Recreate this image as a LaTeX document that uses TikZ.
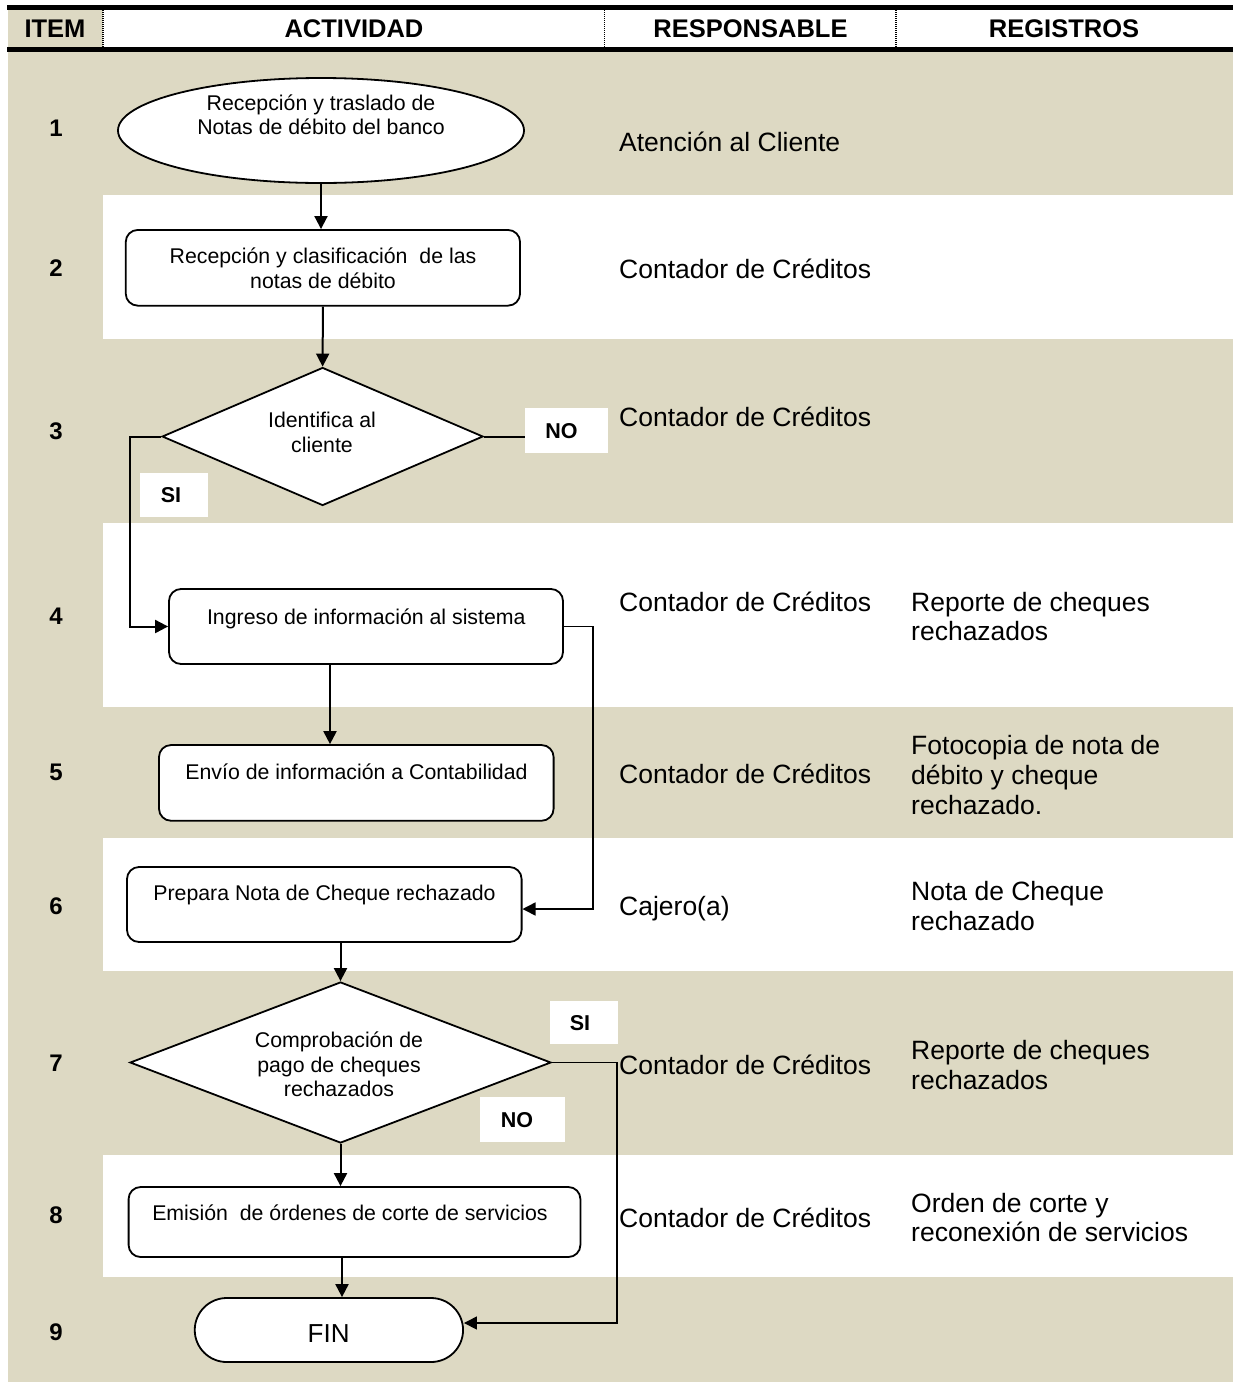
\documentclass[tikz,border=0pt]{standalone}
\usepackage{fontspec}
\setmainfont{Liberation Sans}
\usetikzlibrary{arrows.meta,shapes.geometric}
\definecolor{bgtan}{HTML}{DDD9C3}
\newcommand\hiS{\rule{0pt}{1em}}
\newcommand\loS{\rule[-.28em]{0pt}{.28em}}
\tikzset{
  boxline/.style={draw=black, line width=1.8pt, fill=white, inner sep=0pt},
  procbox/.style={boxline, rectangle, rounded corners=12pt},
  arr/.style={line width=2pt, -{Triangle[length=13pt,width=13pt]}},
  thinarr/.style={line width=1.5pt, -{Triangle[length=13pt,width=13pt]}},
  conn/.style={line width=2pt},
  btxt/.style={font=\fontsize{21.3}{24.5}\selectfont, align=center, inner sep=0pt},
  rtxt/.style={font=\fontsize{26.5}{29.8}\selectfont, align=left, inner sep=0pt, anchor=west},
  htxt/.style={font=\bfseries\fontsize{25.5}{30}\selectfont, inner sep=0pt},
  ntxt/.style={font=\bfseries\fontsize{24}{28}\selectfont, inner sep=0pt},
  lblbox/.style={fill=white, inner sep=0pt, font=\bfseries\fontsize{21.5}{25}\selectfont},
  hdiv/.style={line width=1.5pt, dash pattern=on 1pt off 1pt},
}
\begin{document}
\begin{tikzpicture}[x=1pt,y=-1pt]
\useasboundingbox (0,0) rectangle (1233,1382);
\fill[white] (0,0) rectangle (1233,1382);
% row bands
\fill[bgtan] (8,52) rectangle (1233,1382);
\fill[white] (103,195) rectangle (1233,339);
\fill[white] (103,523) rectangle (1233,707);
\fill[white] (103,838) rectangle (1233,971);
\fill[white] (103,1155) rectangle (1233,1277);
% header
\fill[bgtan] (8,10) rectangle (103,47);
\fill[black] (7,5) rectangle (1233,10);
\fill[black] (7,46.5) rectangle (1233,51.5);
\draw[hdiv] (103,10) -- (103,46.5);
\draw[hdiv] (604.5,10) -- (604.5,46.5);
\draw[hdiv] (896,10) -- (896,46.5);
\node[htxt] (h1) at (55,28.5) {\hiS ITEM\loS};
\node[htxt] (h2) at (354,28.5) {\hiS ACTIVIDAD\loS};
\node[htxt] (h3) at (750.5,28.5) {\hiS RESPONSABLE\loS};
\node[htxt] (h4) at (1064,28.5) {\hiS REGISTROS\loS};
% item numbers
\node[ntxt] (i1) at (56,128) {\hiS 1\loS};
\node[ntxt] (i2) at (56,268) {\hiS 2\loS};
\node[ntxt] (i3) at (56,431) {\hiS 3\loS};
\node[ntxt] (i4) at (56,616) {\hiS 4\loS};
\node[ntxt] (i5) at (56,772) {\hiS 5\loS};
\node[ntxt] (i6) at (56,905.5) {\hiS 6\loS};
\node[ntxt] (i7) at (56,1062.5) {\hiS 7\loS};
\node[ntxt] (i8) at (56,1215) {\hiS 8\loS};
\node[ntxt] (i9) at (56,1331.5) {\hiS 9\loS};
% shapes
\node[ellipse, boxline, minimum width=406pt, minimum height=105pt] (n1) at (321,130.5) {};
\node[btxt] (t1) at (321,115) {\hiS Recepción y traslado de\\Notas de débito del banco\loS};
\node[procbox, minimum width=394.3pt, minimum height=75.7pt] (b2) at (322.9,267.8) {};
\node[btxt] (t2) at (323,268.2) {\hiS Recepción y clasificación~ de las\\notas de débito\loS};
\node[diamond, boxline, minimum width=321pt, minimum height=138pt] (d3) at (322.6,436.5) {};
\node[btxt] (t3) at (322,432.5) {\hiS Identifica al\\cliente\loS};
\node[procbox, minimum width=394pt, minimum height=75pt] (b4) at (366,626.5) {};
\node[btxt] (t4) at (366.3,617) {\hiS Ingreso de información al sistema\loS};
\node[procbox, minimum width=394.6pt, minimum height=75.7pt] (b5) at (356.3,782.9) {};
\node[btxt] (t5) at (356.5,772) {\hiS Envío de información a Contabilidad\loS};
\node[procbox, minimum width=394.6pt, minimum height=75pt] (b6) at (324.3,904.5) {};
\node[btxt] (t6) at (324.5,893) {\hiS Prepara Nota de Cheque rechazado\loS};
\node[diamond, boxline, minimum width=421pt, minimum height=161pt] (d7) at (340.5,1062.5) {};
\node[btxt] (t7) at (339,1064.7) {\hiS Comprobación de\\pago de cheques\\rechazados\loS};
\node[procbox, minimum width=451.8pt, minimum height=70pt] (b8) at (354.5,1222) {};
\node[btxt] (t8) at (350,1212.7) {\hiS Emisión~ de órdenes de corte de servicios\loS};
\node[boxline, rectangle, rounded corners=32pt, minimum width=268.3pt, minimum height=64pt] (fin) at (328.9,1330) {};
\node[btxt, font=\fontsize{26}{30}\selectfont] (t9) at (328.6,1332.7) {\hiS FIN\loS};
% connectors
\draw[arr] (n1.south) -- (n1.south |- b2.north);
\draw[arr] (b2.south) -- (d3.north);
\node[lblbox, minimum width=83pt, minimum height=45pt] (no3) at (566.5,430.5) {\hiS NO\hspace{10pt}\loS};
\draw[conn] (d3.east) -- (d3.east -| no3.west);
\draw[arr] (d3.west) -- ++(-31.5,0) |- (b4.west);
\node[lblbox, minimum width=67.6pt, minimum height=44pt] (si3) at (173.8,495) {\hiS SI\hspace{5.6pt}\loS};
\draw[arr] ([xshift=-36pt]b4.south) -- ([xshift=-36pt]b4.south |- b5.north);
\draw[thinarr] (b4.east) -- ++(29,0) |- ([yshift=-4.5pt]b6.east);
\draw[arr] (d7.north |- b6.south) -- (d7.north);
\draw[thinarr] (d7.east) -- ++(65,0) |- ([yshift=7pt]fin.east);
\draw[arr] (d7.south) -- (d7.south |- b8.north);
\draw[arr] ([xshift=-12.5pt]b8.south) -- ([xshift=-12.5pt]b8.south |- fin.north);
\node[lblbox, minimum width=67.5pt, minimum height=43pt] (si7) at (583.8,1022.5) {\hiS SI\hspace{7.6pt}\loS};
\node[lblbox, minimum width=84.5pt, minimum height=45pt] (no7) at (522.3,1119.5) {\hiS NO\hspace{10.6pt}\loS};
% responsable
\node[rtxt] (r1) at (619,142) {\hiS Atención al Cliente\loS};
\node[rtxt] (r2) at (619,268.5) {\hiS Contador de Créditos\loS};
\node[rtxt] (r3) at (619,417) {\hiS Contador de Créditos\loS};
\node[rtxt] (r4) at (619,601.7) {\hiS Contador de Créditos\loS};
\node[rtxt] (r5) at (619,774) {\hiS Contador de Créditos\loS};
\node[rtxt] (r6) at (619,906) {\hiS Cajero(a)\loS};
\node[rtxt] (r7) at (619,1065) {\hiS Contador de Créditos\loS};
\node[rtxt] (r8) at (619,1218) {\hiS Contador de Créditos\loS};
% registros
\node[rtxt] (g4) at (911,616.4) {\hiS Reporte de cheques\\rechazados\loS};
\node[rtxt] (g5) at (911,775) {\hiS Fotocopia de nota de\\débito y cheque\\rechazado.\loS};
\node[rtxt] (g6) at (911,906) {\hiS Nota de Cheque\\rechazado\loS};
\node[rtxt] (g7) at (911,1065) {\hiS Reporte de cheques\\rechazados\loS};
\node[rtxt] (g8) at (911,1217.5) {\hiS Orden de corte y\\reconexión de servicios\loS};
\end{tikzpicture}
\end{document}
